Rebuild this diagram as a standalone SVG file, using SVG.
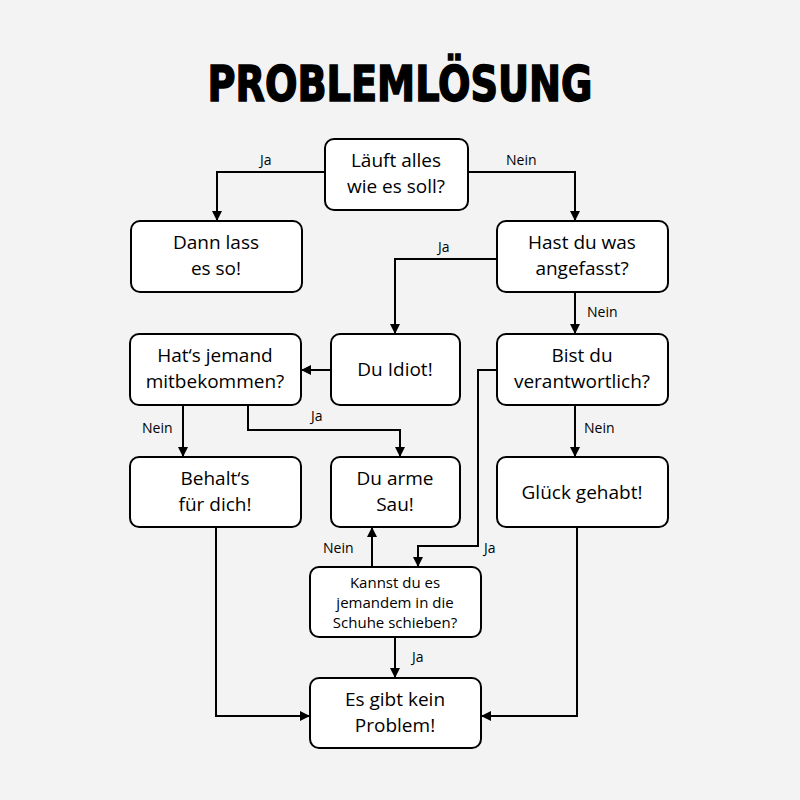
<svg xmlns="http://www.w3.org/2000/svg" width="800" height="800" viewBox="0 0 800 800">
<defs>
<marker id="ah" viewBox="0 0 10 10" refX="10" refY="5" markerWidth="10" markerHeight="10" markerUnits="userSpaceOnUse" orient="auto"><path d="M0,0L10,5L0,10z" fill="#000"/></marker>
<style>
.n rect{fill:#fff;stroke:#000;stroke-width:2}
.n text{font-family:"Open Sans","Noto Sans",sans-serif;font-size:19px;text-anchor:middle;fill:#000}
.c path{fill:none;stroke:#000;stroke-width:2;marker-end:url(#ah)}
.l{font-family:"Open Sans","Noto Sans",sans-serif;font-size:14px;fill:#000}
</style>
</defs>
<rect width="800" height="800" fill="#f3f3f3"/>
<text x="400" y="101" font-family="'DejaVu Sans Condensed','DejaVu Sans',sans-serif" font-weight="bold" font-size="50" text-anchor="middle" stroke="#000" stroke-width="1.5" textLength="385" lengthAdjust="spacingAndGlyphs">PROBLEMLÖSUNG</text>
<g class="c">
<path d="M325,172H217V221"/>
<path d="M468,172H575V221"/>
<path d="M497,259H395V334"/>
<path d="M575,292V334"/>
<path d="M331,370H301"/>
<path d="M183,405V457"/>
<path d="M248,405V430H400V457"/>
<path d="M575,405V457"/>
<path d="M497,370H478V546H418V567"/>
<path d="M372,567V527"/>
<path d="M395,637V678"/>
<path d="M216,527V716H310"/>
<path d="M577,527V716H481"/>
<text class="l" x="260" y="165">Ja</text>
<text class="l" x="506" y="165">Nein</text>
<text class="l" x="438" y="252">Ja</text>
<text class="l" x="587" y="317">Nein</text>
<text class="l" x="142" y="433">Nein</text>
<text class="l" x="311" y="421">Ja</text>
<text class="l" x="584" y="433">Nein</text>
<text class="l" x="484" y="553">Ja</text>
<text class="l" x="323" y="553">Nein</text>
<text class="l" x="412" y="662">Ja</text>
</g>
<g class="n" id="n1"><rect x="325" y="139" width="143" height="71" rx="9"/><text x="396" y="167">Läuft alles</text><text x="396" y="193">wie es soll?</text></g>
<g class="n" id="n2"><rect x="131" y="221" width="171" height="71" rx="9"/><text x="216" y="249">Dann lass</text><text x="216" y="275">es so!</text></g>
<g class="n" id="n3"><rect x="497" y="221" width="171" height="71" rx="9"/><text x="582" y="249">Hast du was</text><text x="582" y="275">angefasst?</text></g>
<g class="n" id="n4"><rect x="130" y="334" width="171" height="71" rx="9"/><text x="215" y="362">Hat‘s jemand</text><text x="215" y="388">mitbekommen?</text></g>
<g class="n" id="n5"><rect x="331" y="334" width="129" height="71" rx="9"/><text x="395" y="376">Du Idiot!</text></g>
<g class="n" id="n6"><rect x="497" y="334" width="171" height="71" rx="9"/><text x="582" y="362">Bist du</text><text x="582" y="388">verantwortlich?</text></g>
<g class="n" id="n7"><rect x="130" y="457" width="171" height="70" rx="9"/><text x="215" y="485">Behalt‘s</text><text x="215" y="511">für dich!</text></g>
<g class="n" id="n8"><rect x="331" y="457" width="129" height="70" rx="9"/><text x="395" y="485">Du arme</text><text x="395" y="511">Sau!</text></g>
<g class="n" id="n9"><rect x="497" y="457" width="171" height="70" rx="9"/><text x="582" y="499">Glück gehabt!</text></g>
<g class="n" id="n10"><rect x="310" y="567" width="171" height="70" rx="9"/><text x="395" y="588" style="font-size:15px">Kannst du es</text><text x="395" y="608" style="font-size:15px">jemandem in die</text><text x="395" y="628" style="font-size:15px">Schuhe schieben?</text></g>
<g class="n" id="n11"><rect x="310" y="678" width="171" height="70" rx="9"/><text x="395" y="706">Es gibt kein</text><text x="395" y="732">Problem!</text></g>
</svg>
